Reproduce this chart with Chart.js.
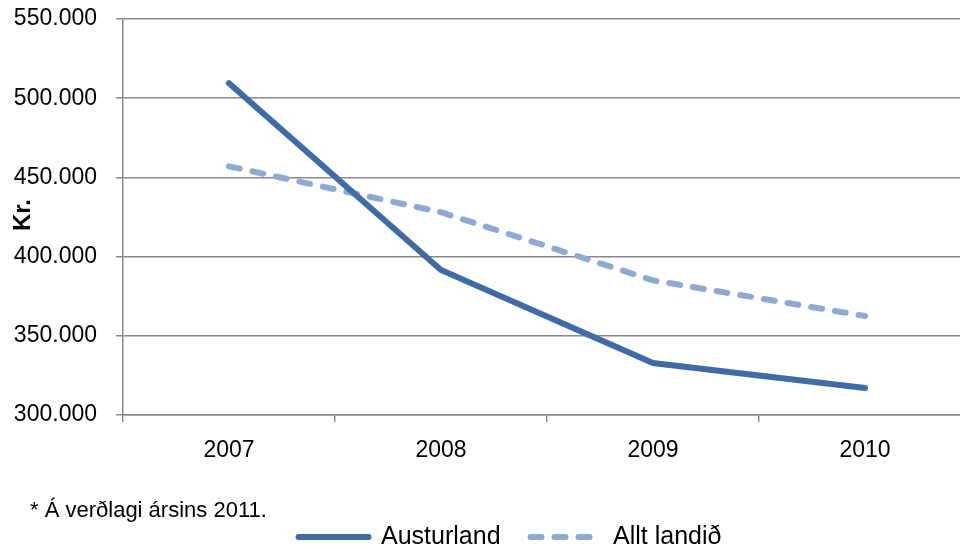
<!DOCTYPE html>
<html lang="is">
<head>
    <meta charset="UTF-8">
    <script src="https://cdn.jsdelivr.net/npm/chart.js"></script>
    <title>Austurland</title>
    <style>
        html, body { margin: 0; padding: 0; background: #fff; overflow: hidden; }
        .wrap { position: relative; width: 980px; height: 549px; }
        .ylabel {
            position: absolute; left: 22px; top: 215px;
            transform: translate(-50%, -50%) rotate(-90deg);
            font: bold 24px "Liberation Sans", Arial, sans-serif; color: #000;
        }
        .footnote {
            position: absolute; left: 30px; top: 497px;
            font: 22px "Liberation Sans", Arial, sans-serif; color: #000;
        }
    </style>
</head>
<body>
    <div class="wrap">
        <canvas id="myChart"></canvas>
        <div class="ylabel">Kr.</div>
        <div class="footnote">* Á verðlagi ársins 2011.</div>
    </div>

<script>
    const ar = ['2007', '2008', '2009', '2010'];
    const austurland = [509500, 391500, 332800, 317000];
    const alltLandid = [457000, 428000, 385000, 362500];

    const grar = '#8a8a8a';
    const letur = { family: '"Liberation Sans", Arial, sans-serif', size: 23 };

    function punktar(v) {
        return String(v).replace(/\B(?=(\d{3})+(?!\d))/g, '.');
    }

    // færir skýringuna aðeins til hægri og stækkar klippusvæðið niður
    const hlidra = {
        id: 'hlidra',
        afterLayout(chart) {
            chart.legend.left += 22;
            chart.legend.right += 22;
            chart.legend.top += 2;
            chart.legend.bottom = chart.height;
        }
    };

    const ctx = document.getElementById('myChart').getContext('2d');
    new Chart(ctx, {
        type: 'line',
        data: {
            labels: ar,
            datasets: [{
                label: 'Austurland',
                data: austurland,
                borderColor: '#3f6ca6',
                backgroundColor: '#3f6ca6',
                borderWidth: 6,
                borderCapStyle: 'round',
                pointRadius: 0,
                tension: 0
            }, {
                label: 'Allt landið',
                data: alltLandid,
                borderColor: '#8eaad2',
                backgroundColor: '#8eaad2',
                borderWidth: 6,
                borderDash: [11, 13],
                borderCapStyle: 'round',
                pointRadius: 0,
                tension: 0
            }]
        },
        plugins: [hlidra],
        options: {
            responsive: true,
            maintainAspectRatio: false,
            animation: false,
            layout: { padding: { top: 19, left: 5, right: 9, bottom: 16.5 } },
            plugins: {
                tooltip: { enabled: false },
                legend: {
                    position: 'bottom',
                    maxHeight: 40,
                    labels: {
                        usePointStyle: true,
                        pointStyle: 'line',
                        pointStyleWidth: 70,
                        boxWidth: 70,
                        padding: 30,
                        color: '#000',
                        font: { family: letur.family, size: 25 },
                        generateLabels: (chart) => {
                            const items = Chart.defaults.plugins.legend.labels.generateLabels(chart);
                            items.forEach((it) => {
                                const ds = chart.data.datasets[it.datasetIndex];
                                it.lineDash = ds.borderDash || [];
                                it.lineCap = 'round';
                                it.lineWidth = ds.borderWidth;
                                it.strokeStyle = ds.borderColor;
                            });
                            return items;
                        }
                    }
                }
            },
            scales: {
                x: {
                    offset: true,
                    grid: {
                        offset: true,
                        drawOnChartArea: false,
                        drawTicks: true,
                        tickLength: 7,
                        color: grar,
                        lineWidth: 1.5
                    },
                    border: { display: true, color: grar, width: 1.5 },
                    ticks: { color: '#000', font: letur, padding: 15, maxRotation: 0 },
                    afterFit: (s) => { s.height = 77.5; s.paddingLeft = 0; s.paddingRight = 0; }
                },
                y: {
                    min: 300000,
                    max: 550000,
                    grid: { color: grar, lineWidth: 1.5, tickLength: 7 },
                    border: { display: true, color: grar, width: 1.5 },
                    ticks: {
                        stepSize: 50000,
                        color: '#000',
                        font: letur,
                        padding: 19,
                        callback: (v) => punktar(v)
                    },
                    afterFit: (s) => { s.width = 118; s.paddingTop = 0; s.paddingBottom = 0; }
                }
            }
        }
    });
</script>
</body>
</html>
